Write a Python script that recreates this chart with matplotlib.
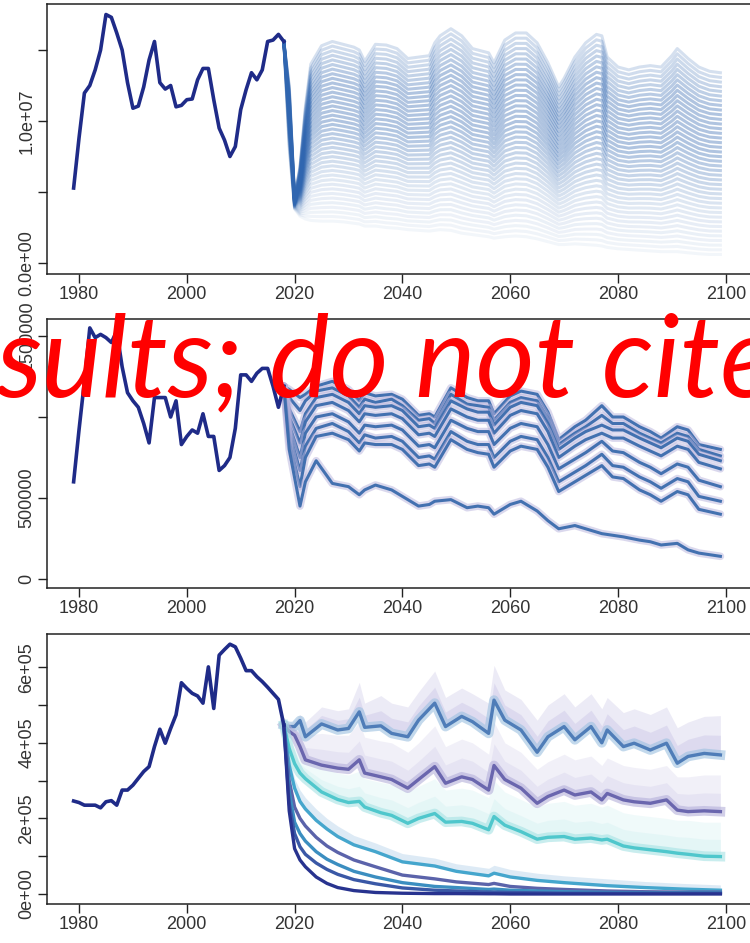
import numpy as np
import matplotlib
matplotlib.use("Agg")
import matplotlib.pyplot as plt

plt.rcParams['font.family'] = ['Liberation Sans', 'DejaVu Sans']

# observed series 1979-2018
hist_years = np.arange(1979, 2019)

# top panel, millions
hist_top = [5.28, 8.8, 11.97, 12.5, 13.6, 15.0, 17.5, 17.3, 16.2, 15.0,
            12.7, 10.9, 11.05, 12.4, 14.3, 15.6, 12.7, 12.25, 12.5, 11.0,
            11.1, 11.5, 11.55, 12.9, 13.7, 13.7, 11.5, 9.5, 8.65, 7.5,
            8.2, 10.8, 12.2, 13.4, 12.9, 13.6, 15.6, 15.7, 16.1, 15.6]
# middle panel, millions
hist_mid = [0.60, 0.92, 1.22, 1.55, 1.49, 1.51, 1.49, 1.46, 1.53, 1.31,
            1.15, 1.10, 1.06, 0.96, 0.84, 1.12, 1.12, 1.12, 1.00, 1.10,
            0.83, 0.88, 0.92, 0.90, 1.02, 0.88, 0.88, 0.67, 0.70, 0.75,
            0.93, 1.26, 1.26, 1.22, 1.27, 1.30, 1.30, 1.19, 1.06, 1.19]
# bottom panel, 1e5
hist_bot = [2.46, 2.42, 2.35, 2.35, 2.35, 2.28, 2.44, 2.47, 2.35, 2.75,
            2.75, 2.88, 3.06, 3.24, 3.37, 3.90, 4.36, 3.99, 4.38, 4.74,
            5.59, 5.44, 5.31, 5.24, 5.05, 6.01, 4.91, 6.32, 6.47, 6.61,
            6.54, 6.24, 5.91, 5.91, 5.75, 5.62, 5.47, 5.31, 5.15, 4.47]

# top panel projections: upper and lower edge of the fan (millions)
fan_years = [2018, 2019, 2020, 2021, 2022, 2023, 2025, 2027, 2029, 2031,
             2032, 2033, 2035, 2037, 2039, 2041, 2043, 2045, 2046, 2047,
             2049, 2051, 2053, 2055, 2056, 2057, 2059, 2061, 2063, 2065,
             2067, 2069, 2070, 2072, 2074, 2076, 2077, 2078, 2080, 2082,
             2084, 2086, 2088, 2090, 2091, 2093, 2095, 2097, 2099]
fan_top = [15.6, 12.5, 4.6, 6.8, 11.0, 14.0, 15.3, 15.6, 15.4, 15.2,
           15.0, 14.2, 15.4, 15.35, 15.1, 14.4, 14.5, 14.6, 15.5, 16.0,
           16.5, 16.0, 15.1, 14.9, 14.8, 14.1, 15.7, 16.2, 16.2, 15.5,
           14.1, 12.4, 13.0, 14.5, 15.5, 16.1, 16.0, 14.5, 13.8, 13.6,
           13.8, 13.9, 13.8, 14.6, 15.1, 14.4, 13.8, 13.5, 13.4]
fan_bottom = [15.6, 8.0, 3.8, 3.3, 3.1, 3.0, 2.95, 2.95, 2.9, 2.8,
              2.75, 2.6, 2.6, 2.5, 2.45, 2.35, 2.3, 2.25, 2.3, 2.35,
              2.3, 2.1, 2.0, 1.9, 1.85, 1.75, 1.85, 1.9, 1.85, 1.7,
              1.5, 1.3, 1.3, 1.35, 1.3, 1.25, 1.2, 1.1, 1.0, 0.95,
              0.9, 0.85, 0.8, 0.8, 0.8, 0.72, 0.65, 0.6, 0.6]
n_fan = 40

# middle panel projections (millions)
mid_years = [2018, 2019, 2021, 2022, 2024, 2027, 2030, 2032, 2033, 2035,
             2038, 2040, 2043, 2045, 2046, 2049, 2052, 2054, 2056, 2057,
             2060, 2062, 2065, 2067, 2069, 2072, 2074, 2077, 2079, 2081,
             2084, 2086, 2088, 2091, 2093, 2095, 2099]
mid_runs = [
    [1.19, 1.17, 1.12, 1.14, 1.19, 1.22, 1.17, 1.10, 1.15, 1.13, 1.14, 1.11, 1.01,
     1.02, 1.00, 1.18, 1.12, 1.10, 1.10, 1.02, 1.13, 1.16, 1.14, 1.03, 0.86, 0.94,
     0.98, 1.07, 1.00, 1.00, 0.94, 0.91, 0.87, 0.94, 0.92, 0.83, 0.80],
    [1.19, 1.12, 1.04, 1.10, 1.16, 1.18, 1.13, 1.06, 1.11, 1.09, 1.11, 1.07, 0.98,
     0.99, 0.96, 1.14, 1.08, 1.07, 1.06, 0.98, 1.09, 1.12, 1.10, 0.99, 0.83, 0.90,
     0.94, 1.01, 0.96, 0.96, 0.90, 0.87, 0.84, 0.90, 0.88, 0.80, 0.76],
    [1.19, 1.05, 0.91, 1.02, 1.12, 1.14, 1.09, 1.02, 1.07, 1.06, 1.07, 1.04, 0.94,
     0.95, 0.93, 1.10, 1.05, 1.03, 1.03, 0.95, 1.06, 1.09, 1.07, 0.96, 0.80, 0.87,
     0.91, 0.95, 0.92, 0.92, 0.87, 0.84, 0.81, 0.87, 0.85, 0.77, 0.73],
    [1.19, 1.00, 0.84, 0.97, 1.07, 1.09, 1.04, 0.97, 1.02, 1.01, 1.02, 0.99, 0.89,
     0.90, 0.88, 1.05, 1.00, 0.98, 0.98, 0.90, 1.01, 1.04, 1.02, 0.91, 0.75, 0.82,
     0.86, 0.90, 0.87, 0.87, 0.82, 0.79, 0.76, 0.82, 0.80, 0.72, 0.68],
    [1.19, 0.95, 0.75, 0.90, 1.00, 1.02, 0.97, 0.90, 0.95, 0.94, 0.95, 0.92, 0.82,
     0.83, 0.81, 0.98, 0.93, 0.91, 0.91, 0.83, 0.93, 0.96, 0.94, 0.83, 0.68, 0.74,
     0.78, 0.85, 0.79, 0.78, 0.72, 0.69, 0.65, 0.71, 0.69, 0.61, 0.57],
    [1.19, 0.90, 0.67, 0.82, 0.93, 0.96, 0.91, 0.84, 0.89, 0.87, 0.88, 0.85, 0.75,
     0.76, 0.74, 0.91, 0.85, 0.83, 0.83, 0.75, 0.85, 0.88, 0.86, 0.75, 0.60, 0.66,
     0.70, 0.77, 0.70, 0.69, 0.63, 0.60, 0.56, 0.62, 0.60, 0.51, 0.48],
    [1.19, 0.85, 0.57, 0.75, 0.88, 0.90, 0.86, 0.79, 0.84, 0.83, 0.83, 0.80, 0.70,
     0.71, 0.69, 0.86, 0.80, 0.78, 0.77, 0.69, 0.79, 0.82, 0.80, 0.69, 0.54, 0.60,
     0.64, 0.70, 0.63, 0.62, 0.55, 0.52, 0.48, 0.54, 0.52, 0.43, 0.40],
    [1.19, 0.80, 0.45, 0.60, 0.73, 0.59, 0.57, 0.52, 0.55, 0.58, 0.55, 0.51, 0.45,
     0.46, 0.48, 0.49, 0.44, 0.45, 0.44, 0.40, 0.46, 0.48, 0.42, 0.36, 0.31, 0.33,
     0.31, 0.28, 0.27, 0.26, 0.24, 0.23, 0.21, 0.22, 0.18, 0.16, 0.14],
]

# bottom panel projections (1e5): three banded scenarios
bot_years = [2018, 2019, 2020, 2021, 2022, 2025, 2028, 2030, 2032, 2033,
             2036, 2038, 2041, 2043, 2046, 2048, 2051, 2053, 2056, 2057,
             2059, 2062, 2065, 2067, 2070, 2072, 2075, 2077, 2078, 2081,
             2083, 2086, 2089, 2091, 2093, 2096, 2099]
run_a = [4.47, 4.43, 4.43, 4.59, 4.16, 4.50, 4.34, 4.38, 4.82, 4.41,
         4.45, 4.25, 4.16, 4.60, 5.05, 4.43, 4.70, 4.56, 4.25, 5.13,
         4.60, 4.34, 3.75, 4.16, 4.43, 4.08, 4.43, 4.00, 4.34, 3.90,
         3.99, 3.81, 3.99, 3.46, 3.64, 3.72, 3.68]
run_a_hi = [4.47, 4.50, 4.58, 4.75, 4.55, 4.95, 4.85, 4.90, 5.60, 5.05,
            5.25, 5.05, 4.95, 5.35, 5.90, 5.20, 5.45, 5.30, 5.05, 6.05,
            5.40, 5.15, 4.60, 5.00, 5.30, 4.95, 5.30, 4.90, 5.20, 4.80,
            4.90, 4.75, 4.95, 4.40, 4.55, 4.70, 4.72]
run_b = [4.47, 4.30, 4.20, 3.90, 3.55, 3.41, 3.33, 3.30, 3.55, 3.20,
         3.10, 3.03, 2.80, 3.03, 3.37, 2.93, 3.10, 3.03, 2.75, 3.40,
         3.03, 2.80, 2.40, 2.58, 2.75, 2.62, 2.70, 2.49, 2.66, 2.49,
         2.44, 2.40, 2.49, 2.22, 2.18, 2.20, 2.18]
run_b_hi = [4.47, 4.45, 4.50, 4.40, 4.20, 4.25, 4.20, 4.20, 4.55, 4.15,
            4.05, 4.00, 3.75, 4.00, 4.45, 3.90, 4.10, 4.00, 3.70, 4.55,
            4.00, 3.75, 3.30, 3.50, 3.70, 3.55, 3.65, 3.40, 3.60, 3.40,
            3.35, 3.30, 3.40, 3.10, 3.10, 3.15, 3.15]
run_c = [4.47, 3.85, 3.45, 3.20, 3.05, 2.70, 2.50, 2.42, 2.45, 2.30,
         2.15, 2.08, 1.87, 2.00, 2.13, 1.90, 1.92, 1.87, 1.70, 2.05,
         1.82, 1.65, 1.45, 1.50, 1.52, 1.45, 1.48, 1.43, 1.45, 1.27,
         1.22, 1.17, 1.12, 1.08, 1.05, 1.00, 0.99]
run_c_hi = [4.47, 4.10, 3.85, 3.70, 3.60, 3.35, 3.20, 3.15, 3.25, 3.05,
            2.95, 2.90, 2.70, 2.85, 3.05, 2.75, 2.80, 2.75, 2.55, 3.00,
            2.70, 2.50, 2.30, 2.40, 2.45, 2.35, 2.40, 2.30, 2.35, 2.15,
            2.10, 2.05, 2.00, 1.95, 1.95, 1.90, 1.90]

# bottom panel projections (1e5): fast-declining scenarios
low_years = [2018, 2019, 2020, 2021, 2022, 2024, 2026, 2028, 2031, 2035, 2040,
             2046, 2050, 2056, 2057, 2060, 2065, 2070, 2078, 2085, 2092, 2099]
run_d = [4.47, 3.40, 2.80, 2.45, 2.25, 1.95, 1.72, 1.52, 1.30, 1.12, 0.85,
         0.74, 0.60, 0.48, 0.55, 0.45, 0.36, 0.30, 0.22, 0.17, 0.13, 0.10]
run_d_hi = [4.47, 3.60, 3.05, 2.75, 2.55, 2.25, 2.00, 1.80, 1.55, 1.35, 1.07,
            0.95, 0.80, 0.68, 0.76, 0.65, 0.55, 0.48, 0.40, 0.33, 0.28, 0.24]
run_e = [4.47, 3.00, 2.30, 2.00, 1.80, 1.50, 1.27, 1.10, 0.90, 0.72, 0.50,
         0.40, 0.32, 0.25, 0.28, 0.20, 0.15, 0.12, 0.08, 0.06, 0.05, 0.05]
run_f = [4.47, 2.70, 1.90, 1.60, 1.40, 1.12, 0.92, 0.78, 0.60, 0.45, 0.30,
         0.20, 0.17, 0.12, 0.13, 0.10, 0.08, 0.06, 0.04, 0.03, 0.03, 0.03]
run_g = [4.47, 2.40, 1.60, 1.25, 1.05, 0.82, 0.65, 0.52, 0.38, 0.27, 0.16,
         0.10, 0.08, 0.05, 0.05, 0.04, 0.03, 0.02, 0.02, 0.02, 0.02, 0.02]
run_h = [4.47, 2.20, 1.20, 0.90, 0.72, 0.45, 0.28, 0.17, 0.09, 0.04, 0.02,
         0.01, 0.01, 0.005, 0.005, 0.0, 0.0, 0.0, 0.0, 0.0, 0.0, 0.0]

x_ticks = [1980, 2000, 2020, 2040, 2060, 2080, 2100]

NAVY = '#1f2b88'
INK = '#222222'


def style_axes(ax, yticks, ylabels, ylim):
    ax.set_xlim(1974.06, 2106.35)
    ax.set_ylim(*ylim)
    ax.set_xticks(x_ticks)
    ax.set_xticklabels([str(t) for t in x_ticks])
    ax.set_yticks(yticks)
    ax.set_yticklabels(ylabels, rotation=90, va='center')
    ax.tick_params(direction='out', length=6.5, width=1.0, color=INK,
                   labelsize=13, labelcolor='#333333', pad=2)
    for s in ax.spines.values():
        s.set_linewidth(1.1)
        s.set_color(INK)


fig = plt.figure(figsize=(7.5, 9.43), dpi=100)
left, width = 47 / 750, 713 / 750
ax1 = fig.add_axes([left, 1 - 274 / 943, width, 270 / 943])
ax2 = fig.add_axes([left, 1 - 588 / 943, width, 269 / 943])
ax3 = fig.add_axes([left, 1 - 904 / 943, width, 270 / 943])

# --- top: fan of harvest scenarios ---
ftop = np.array(fan_top) * 1e6
fbot = np.array(fan_bottom) * 1e6
levels = np.linspace(0, 1, n_fan)
alphas = np.interp(levels, [0, 0.25, 0.55, 0.8, 1.0], [0.06, 0.15, 0.38, 0.38, 0.2])
for lv, al in zip(levels, alphas):
    ax1.plot(fan_years, fbot + lv * (ftop - fbot), color='#3066b0', lw=2.2,
             alpha=al, solid_joinstyle='round')
ax1.plot(hist_years, np.array(hist_top) * 1e6, color=NAVY, lw=2.6)
style_axes(ax1, [0, 5e6, 1e7, 1.5e7], ['0.0e+00', '', '1.0e+07', ''],
           (-0.775e6, 18.24e6))

# --- middle ---
for run in mid_runs:
    vals = np.array(run) * 1e6
    ax2.plot(mid_years, vals, color='#b7b2dc', lw=5.5, alpha=0.5,
             solid_capstyle='round')
    ax2.plot(mid_years, vals, color='#3b6cad', lw=2.2, alpha=0.95)
ax2.plot(hist_years, np.array(hist_mid) * 1e6, color=NAVY, lw=2.6)
style_axes(ax2, [0, 5e5, 1e6, 1.5e6], ['0', '500000', '', '1500000'],
           (-0.0556e6, 1.605e6))

# --- bottom ---
banded = [
    (run_a, run_a_hi, '#4f7db8', '#9cc0e0', '#c3bde2'),
    (run_b, run_b_hi, '#6a66ae', '#b4b0da', '#d3cfea'),
    (run_c, run_c_hi, '#4fc7cc', '#a6e2e4', '#d0eff1'),
]
for main, hi, col, halo, shade in banded:
    m = np.array(main) * 1e5
    h = np.array(hi) * 1e5
    # two overlapping fills so the spread fades out upward
    ax3.fill_between(bot_years, m, h, color=shade, alpha=0.3, lw=0)
    ax3.fill_between(bot_years, m, (m + h) / 2, color=shade, alpha=0.35, lw=0)
    ax3.plot(bot_years, m, color=halo, lw=7, alpha=0.6)
    ax3.plot(bot_years, m, color=col, lw=2.4)

d = np.array(run_d) * 1e5
ax3.fill_between(low_years, d, np.array(run_d_hi) * 1e5, color='#cfe2f2', alpha=0.7, lw=0)
ax3.plot(low_years, d, color='#45a6cd', lw=2.4)
for run, col in [(run_e, '#5b63aa'), (run_f, '#3b8ec0'), (run_g, '#3a58a6'),
                 (run_h, '#28338f')]:
    ax3.plot(low_years, np.array(run) * 1e5, color=col, lw=2.4)
ax3.plot(hist_years, np.array(hist_bot) * 1e5, color=NAVY, lw=2.6)
style_axes(ax3, [0, 1e5, 2e5, 3e5, 4e5, 5e5, 6e5],
           ['0e+00', '', '2e+05', '', '4e+05', '', '6e+05'],
           (-0.265e5, 6.88e5))

fig.text(-4 / 750, 1 - 396 / 943, 'sults; do not cite', color='#ff0000',
         fontsize=82, fontstyle='italic', family=['Lato', 'DejaVu Sans'],
         ha='left', va='baseline', zorder=10)

fig.savefig('out.png', dpi=100)
